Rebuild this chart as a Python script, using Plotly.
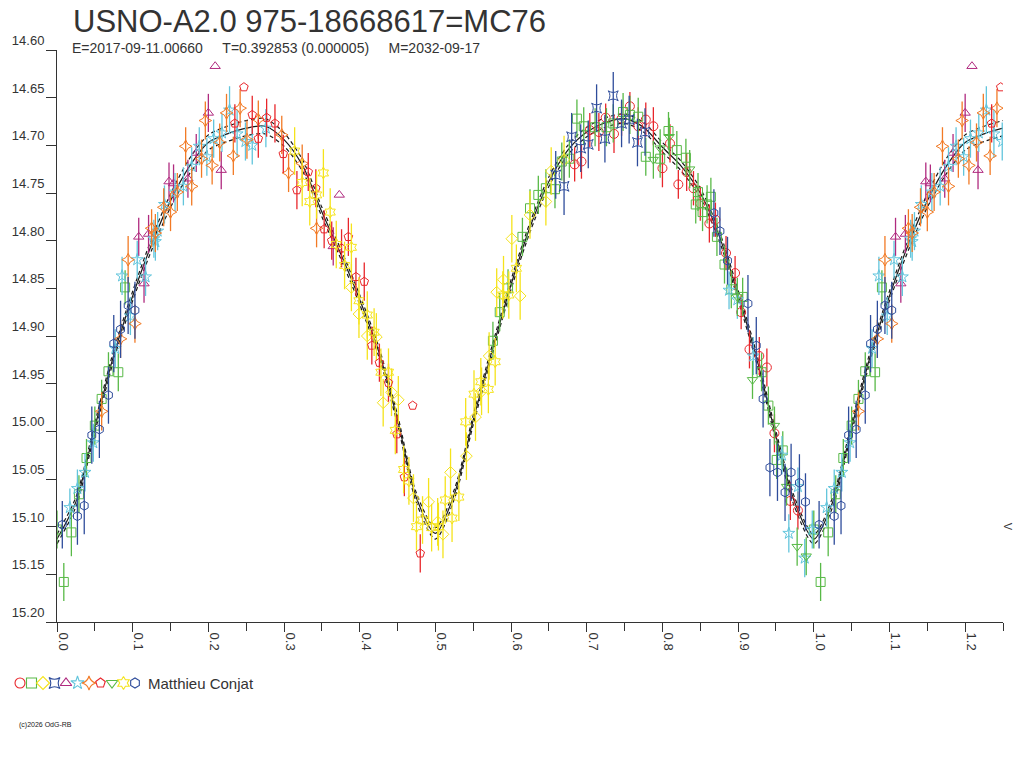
import plotly.graph_objects as go

# ---- photometry, one list per observing run: [phase, mag, error] ----
red_circle = [[0.684, 14.720, 0.018], [0.693, 14.717, 0.018], [0.704, 14.684, 0.018], [0.716, 14.686, 0.02],
              [0.725, 14.671, 0.015], [0.736, 14.688, 0.02], [0.746, 14.672, 0.018], [0.757, 14.659, 0.015],
              [0.768, 14.680, 0.02], [0.778, 14.673, 0.018], [0.788, 14.680, 0.02], [0.800, 14.724, 0.02],
              [0.810, 14.698, 0.02], [0.821, 14.741, 0.015], [0.832, 14.728, 0.02], [0.841, 14.745, 0.018],
              [0.850, 14.761, 0.018], [0.862, 14.782, 0.02], [0.870, 14.778, 0.018], [0.884, 14.813, 0.018],
              [0.896, 14.834, 0.018], [0.904, 14.875, 0.018], [0.915, 14.914, 0.02], [0.928, 14.921, 0.02],
              [0.938, 14.933, 0.02], [0.948, 15.002, 0.02], [0.969, 15.073, 0.02], [0.979, 15.083, 0.02]]

green_square = [[0.000, 15.103, 0.02], [0.009, 15.158, 0.02], [0.019, 15.106, 0.025], [0.029, 15.066, 0.02],
                [0.039, 15.028, 0.02], [0.050, 14.994, 0.02], [0.059, 14.966, 0.02], [0.068, 14.937, 0.02],
                [0.081, 14.938, 0.02], [0.090, 14.849, 0.018],
                [0.576, 14.905, 0.02], [0.585, 14.875, 0.02], [0.596, 14.850, 0.02], [0.615, 14.796, 0.02],
                [0.625, 14.766, 0.02], [0.636, 14.752, 0.02], [0.646, 14.745, 0.02], [0.658, 14.746, 0.02],
                [0.667, 14.717, 0.02], [0.677, 14.714, 0.02], [0.687, 14.672, 0.02], [0.696, 14.680, 0.02],
                [0.711, 14.681, 0.02], [0.726, 14.681, 0.02], [0.735, 14.677, 0.02], [0.748, 14.665, 0.02],
                [0.757, 14.668, 0.02], [0.768, 14.670, 0.02], [0.778, 14.712, 0.02], [0.797, 14.714, 0.02],
                [0.808, 14.685, 0.02], [0.819, 14.705, 0.02], [0.831, 14.713, 0.02], [0.844, 14.762, 0.02],
                [0.847, 14.749, 0.02], [0.853, 14.770, 0.02], [0.859, 14.762, 0.02], [0.864, 14.754, 0.02],
                [0.872, 14.796, 0.02], [0.882, 14.825, 0.02], [0.891, 14.851, 0.02], [0.906, 14.859, 0.02],
                [0.931, 14.938, 0.02], [0.940, 14.973, 0.02], [0.951, 15.030, 0.02], [0.959, 15.020, 0.02]]

yellow_diamond = [[0.389, 14.849, 0.025], [0.399, 14.877, 0.025], [0.410, 14.900, 0.025], [0.422, 14.901, 0.025],
                  [0.431, 14.970, 0.025], [0.442, 14.959, 0.025], [0.451, 14.967, 0.025], [0.471, 15.070, 0.025],
                  [0.491, 15.074, 0.025], [0.503, 15.095, 0.025], [0.510, 15.108, 0.025], [0.520, 15.043, 0.025],
                  [0.541, 15.026, 0.025], [0.553, 14.985, 0.025], [0.561, 14.958, 0.025], [0.571, 14.921, 0.025],
                  [0.581, 14.854, 0.025], [0.590, 14.841, 0.025], [0.601, 14.798, 0.025], [0.612, 14.858, 0.025],
                  [0.625, 14.773, 0.025], [0.646, 14.759, 0.025], [0.653, 14.727, 0.025], [0.670, 14.715, 0.025]]

blue_starsq = [[0.659, 14.731, 0.025], [0.670, 14.743, 0.03], [0.680, 14.691, 0.025], [0.692, 14.703, 0.025],
               [0.702, 14.699, 0.025], [0.713, 14.661, 0.025], [0.724, 14.693, 0.025], [0.735, 14.648, 0.025],
               [0.746, 14.677, 0.025], [0.756, 14.673, 0.025], [0.767, 14.697, 0.025], [0.777, 14.686, 0.025]]

purple_tri = [[0.108, 14.796, 0.02], [0.115, 14.845, 0.02], [0.121, 14.793, 0.02], [0.148, 14.738, 0.02],
              [0.154, 14.740, 0.02], [0.173, 14.735, 0.02], [0.184, 14.708, 0.02], [0.200, 14.666, 0.02],
              [0.209, 14.617, 0.0], [0.217, 14.726, 0.02], [0.365, 14.806, 0.02], [0.373, 14.752, 0.0]]

cyan_star = [[0.017, 15.080, 0.02], [0.027, 15.060, 0.02], [0.037, 15.043, 0.02], [0.048, 15.012, 0.02],
             [0.077, 14.913, 0.02], [0.086, 14.837, 0.02], [0.097, 14.879, 0.02], [0.106, 14.820, 0.02],
             [0.117, 14.838, 0.02], [0.128, 14.798, 0.02], [0.130, 14.801, 0.02], [0.133, 14.790, 0.02],
             [0.142, 14.762, 0.02], [0.156, 14.749, 0.02], [0.167, 14.743, 0.02], [0.178, 14.722, 0.02],
             [0.188, 14.701, 0.02], [0.198, 14.712, 0.02], [0.207, 14.693, 0.02], [0.218, 14.687, 0.02],
             [0.228, 14.663, 0.025], [0.238, 14.688, 0.025], [0.249, 14.696, 0.02], [0.258, 14.700, 0.02],
             [0.276, 14.682, 0.02],
             [0.888, 14.852, 0.02], [0.899, 14.862, 0.02], [0.920, 14.921, 0.02], [0.958, 15.025, 0.02],
             [0.967, 15.107, 0.02], [0.979, 15.058, 0.02], [0.988, 15.133, 0.02], [0.998, 15.103, 0.02]]

orange_4star = [[0.059, 14.979, 0.02], [0.084, 14.903, 0.02], [0.094, 14.820, 0.025], [0.103, 14.887, 0.02],
                [0.125, 14.787, 0.02], [0.130, 14.792, 0.02], [0.141, 14.765, 0.02], [0.150, 14.770, 0.02],
                [0.159, 14.749, 0.02], [0.170, 14.701, 0.02], [0.178, 14.743, 0.02], [0.191, 14.714, 0.02],
                [0.196, 14.674, 0.02], [0.205, 14.721, 0.02], [0.215, 14.697, 0.02], [0.224, 14.666, 0.02],
                [0.233, 14.711, 0.02], [0.242, 14.661, 0.02], [0.251, 14.694, 0.02], [0.266, 14.673, 0.02],
                [0.297, 14.689, 0.02], [0.306, 14.729, 0.02], [0.324, 14.719, 0.02], [0.343, 14.787, 0.02]]

red_pentagon = [[0.235, 14.677, 0.02], [0.247, 14.639, 0.0], [0.258, 14.668, 0.02], [0.266, 14.693, 0.02],
                [0.277, 14.671, 0.02], [0.288, 14.677, 0.02], [0.299, 14.709, 0.02], [0.317, 14.747, 0.02],
                [0.332, 14.728, 0.02], [0.342, 14.745, 0.02], [0.353, 14.788, 0.02], [0.363, 14.800, 0.02],
                [0.376, 14.808, 0.02], [0.385, 14.796, 0.02], [0.395, 14.838, 0.02], [0.406, 14.843, 0.02],
                [0.416, 14.910, 0.02], [0.426, 14.928, 0.02], [0.438, 14.949, 0.02], [0.449, 15.003, 0.02],
                [0.459, 15.048, 0.02], [0.470, 14.973, 0.0], [0.480, 15.128, 0.02]]

green_tri = [[0.788, 14.715, 0.02], [0.797, 14.703, 0.02], [0.809, 14.691, 0.02], [0.836, 14.725, 0.02],
             [0.899, 14.859, 0.02], [0.919, 14.946, 0.02], [0.948, 14.994, 0.02], [0.964, 15.058, 0.02],
             [0.978, 15.121, 0.02], [0.990, 15.131, 0.02]]

yellow_hexagram = [[0.314, 14.706, 0.025], [0.324, 14.739, 0.025], [0.334, 14.759, 0.025], [0.343, 14.752, 0.025],
                   [0.352, 14.729, 0.025], [0.361, 14.770, 0.025], [0.369, 14.804, 0.025], [0.380, 14.826, 0.025],
                   [0.389, 14.807, 0.025], [0.399, 14.863, 0.025], [0.410, 14.878, 0.025], [0.419, 14.896, 0.025],
                   [0.428, 14.938, 0.025], [0.438, 14.938, 0.025], [0.447, 14.999, 0.025], [0.458, 15.040, 0.025],
                   [0.465, 15.052, 0.025], [0.475, 15.100, 0.025], [0.483, 15.093, 0.025], [0.495, 15.101, 0.025],
                   [0.504, 15.100, 0.025], [0.513, 15.072, 0.025], [0.522, 15.091, 0.025], [0.531, 15.069, 0.025],
                   [0.540, 14.990, 0.025], [0.551, 14.961, 0.025], [0.560, 14.948, 0.025], [0.570, 14.956, 0.025],
                   [0.579, 14.927, 0.025], [0.589, 14.857, 0.025], [0.597, 14.857, 0.025], [0.607, 14.829, 0.025]]

blue_hexagon = [[0.007, 15.098, 0.025], [0.027, 15.089, 0.03], [0.036, 15.078, 0.03], [0.046, 15.004, 0.03],
                [0.056, 14.998, 0.03], [0.068, 14.962, 0.03], [0.075, 14.908, 0.03], [0.084, 14.893, 0.03],
                [0.094, 14.868, 0.03], [0.103, 14.873, 0.03],
                [0.868, 14.771, 0.025], [0.876, 14.790, 0.025], [0.886, 14.821, 0.025], [0.913, 14.866, 0.03],
                [0.924, 14.910, 0.03], [0.933, 14.966, 0.03], [0.942, 15.038, 0.03], [0.952, 15.043, 0.03],
                [0.962, 15.064, 0.03], [0.970, 15.043, 0.03], [0.981, 15.054, 0.03], [0.989, 15.074, 0.03]]

# (data, plotly symbol, colour) in the order of the legend row
series = [
    (red_circle, "circle-open", "#e8262b"),
    (green_square, "square-open", "#58b947"),
    (yellow_diamond, "diamond-open", "#f5e31b"),
    (blue_starsq, "star-square-open", "#2e4c9b"),
    (purple_tri, "triangle-up-open", "#b02a7f"),
    (cyan_star, "star-open", "#62c5dc"),
    (orange_4star, "star-diamond-open", "#f27a25"),
    (red_pentagon, "pentagon-open", "#e8262b"),
    (green_tri, "triangle-down-open", "#58b947"),
    (yellow_hexagram, "hexagram-open", "#f5e31b"),
    (blue_hexagon, "hexagon-open", "#2e4c9b"),
]

# fitted light curve, one period
fit_phase = [0.000, 0.025, 0.050, 0.075, 0.100, 0.125, 0.150, 0.175, 0.200, 0.225,
             0.250, 0.275, 0.300, 0.325, 0.350, 0.375, 0.400, 0.425, 0.450, 0.475,
             0.500, 0.525, 0.550, 0.575, 0.600, 0.625, 0.650, 0.675, 0.700, 0.725,
             0.750, 0.775, 0.800, 0.825, 0.850, 0.875, 0.900, 0.925, 0.950, 0.975, 1.000]
fit_mag = [15.113, 15.074, 14.996, 14.920, 14.858, 14.804, 14.758, 14.722, 14.697, 14.688,
           14.682, 14.680, 14.694, 14.722, 14.770, 14.814, 14.862, 14.916, 14.988, 15.070,
           15.107, 15.066, 14.988, 14.915, 14.846, 14.786, 14.738, 14.705, 14.686, 14.676,
           14.672, 14.681, 14.702, 14.722, 14.750, 14.795, 14.857, 14.925, 15.005, 15.075, 15.113]
fit_band = [0.005, 0.005, 0.005, 0.005, 0.005, 0.006, 0.007, 0.008, 0.008, 0.008,
            0.008, 0.008, 0.007, 0.006, 0.005, 0.005, 0.005, 0.005, 0.005, 0.005,
            0.006, 0.005, 0.005, 0.005, 0.005, 0.005, 0.005, 0.005, 0.005, 0.005,
            0.005, 0.005, 0.005, 0.005, 0.005, 0.005, 0.005, 0.005, 0.005, 0.005, 0.005]

x_ticks = [0.0, 0.1, 0.2, 0.3, 0.4, 0.5, 0.6, 0.7, 0.8, 0.9, 1.0, 1.1, 1.2]
y_ticks = [14.60, 14.65, 14.70, 14.75, 14.80, 14.85, 14.90, 14.95, 15.00, 15.05, 15.10, 15.15, 15.20]

title = "USNO-A2.0 975-18668617=MC76"
subtitle = "E=2017-09-11.00660\u00a0\u00a0\u00a0\u00a0\u00a0T=0.392853 (0.000005)\u00a0\u00a0\u00a0\u00a0\u00a0M=2032-09-17"
observer = "Matthieu Conjat"
copyright_txt = "(c)2026 OdG-RB"

FONT = "Arial, Liberation Sans, sans-serif"
INK = "#333333"
W, H = 1024, 768


def px(x):
    return x / W


def py(y):
    return 1 - y / H


fig = go.Figure()

# fit + band, extended past phase 1 up to 1.25
ext_phase = fit_phase + [p + 1 for p in fit_phase[1:] if p <= 0.25]
ext_mag = fit_mag + [m for p, m in zip(fit_phase[1:], fit_mag[1:]) if p <= 0.25]
ext_band = fit_band + [b for p, b in zip(fit_phase[1:], fit_band[1:]) if p <= 0.25]
upper = [m - b for m, b in zip(ext_mag, ext_band)]
lower = [m + b for m, b in zip(ext_mag, ext_band)]

for ys, dash in [(upper, "4px,3px"), (lower, "4px,3px"), (ext_mag, "solid")]:
    fig.add_trace(go.Scatter(x=ext_phase, y=ys, mode="lines",
                             line=dict(color="#1a1a1a", width=1.2, dash=dash, shape="spline", smoothing=0.8),
                             hoverinfo="skip", showlegend=False))

for data, sym, col in series:
    ph = [r[0] for r in data] + [r[0] + 1 for r in data if r[0] <= 0.25]
    mg = [r[1] for r in data] + [r[1] for r in data if r[0] <= 0.25]
    er = [r[2] for r in data] + [r[2] for r in data if r[0] <= 0.25]
    fig.add_trace(go.Scatter(
        x=ph, y=mg, mode="markers",
        marker=dict(symbol=sym, size=9, color=col, line=dict(width=1, color=col)),
        error_y=dict(type="data", array=er, visible=True, color=col, thickness=1.3, width=0),
        showlegend=False))

# legend row: one symbol per run, drawn on a helper axis
for i, (data, sym, col) in enumerate(series):
    fig.add_trace(go.Scatter(x=[i], y=[0], mode="markers", xaxis="x2", yaxis="y2",
                             marker=dict(symbol=sym, size=10, color=col, line=dict(width=1.1, color=col)),
                             showlegend=False, hoverinfo="skip"))

fig.update_layout(
    width=W, height=H, autosize=False,
    margin=dict(l=0, r=0, t=0, b=0, pad=0),
    paper_bgcolor="white", plot_bgcolor="white",
    font=dict(family=FONT, color=INK),
    showlegend=False,
    xaxis=dict(domain=[px(57), px(1003)], range=[0, 1.25], anchor="y", automargin=False,
               showline=True, linecolor=INK, linewidth=1, showgrid=False, zeroline=False,
               tickmode="array", tickvals=x_ticks, ticktext=[f"{v:.1f}" for v in x_ticks],
               ticks="outside", ticklen=9, tickcolor=INK, tickwidth=1,
               minor=dict(tickmode="linear", tick0=0.05, dtick=0.1, ticks="outside", ticklen=8,
                          tickcolor=INK, tickwidth=1, showgrid=False),
               tickangle=90, ticklabelshift=6, ticklabelstandoff=-2,
               tickfont=dict(size=13, color=INK, family=FONT)),
    yaxis=dict(domain=[py(622), py(50)], range=[15.20, 14.60], anchor="x", automargin=False,
               showline=True, linecolor=INK, linewidth=1, showgrid=False, zeroline=False,
               tickmode="array", tickvals=y_ticks, ticktext=[f"{v:.2f}" for v in y_ticks],
               ticks="outside", ticklen=10, tickcolor=INK, tickwidth=1,
               ticklabelposition="outside top", ticklabelstandoff=9,
               tickfont=dict(size=13, color=INK, family=FONT)),
    xaxis2=dict(domain=[0, 1], range=[-20 / 11.5, (W - 20) / 11.5], anchor="y2", visible=False),
    yaxis2=dict(domain=[py(695), py(671)], range=[-1, 1], anchor="x2", visible=False),
)

fig.add_annotation(text=title, xref="paper", yref="paper", x=px(71), y=py(21),
                   xanchor="left", yanchor="middle", showarrow=False,
                   font=dict(size=31, color=INK, family=FONT))
fig.add_annotation(text=subtitle, xref="paper", yref="paper", x=px(70), y=py(48),
                   xanchor="left", yanchor="middle", showarrow=False,
                   font=dict(size=14, color=INK, family=FONT))
fig.add_annotation(text=observer, xref="paper", yref="paper", x=px(146), y=py(683),
                   xanchor="left", yanchor="middle", showarrow=False,
                   font=dict(size=15, color=INK, family=FONT))
fig.add_annotation(text=copyright_txt, xref="paper", yref="paper", x=px(17), y=py(725),
                   xanchor="left", yanchor="middle", showarrow=False,
                   font=dict(size=7, color="#222222", family=FONT))
fig.add_annotation(text="V", x=1.25, y=15.10, xref="x", yref="y", xshift=5, showarrow=False,
                   textangle=90, font=dict(size=11, color=INK, family=FONT))

# drop the browser's default 8px body margin so the figure sits in the window corner
fig.write_html("out.html", config={"displayModeBar": False},
               post_script="document.body.style.margin='0px';")
